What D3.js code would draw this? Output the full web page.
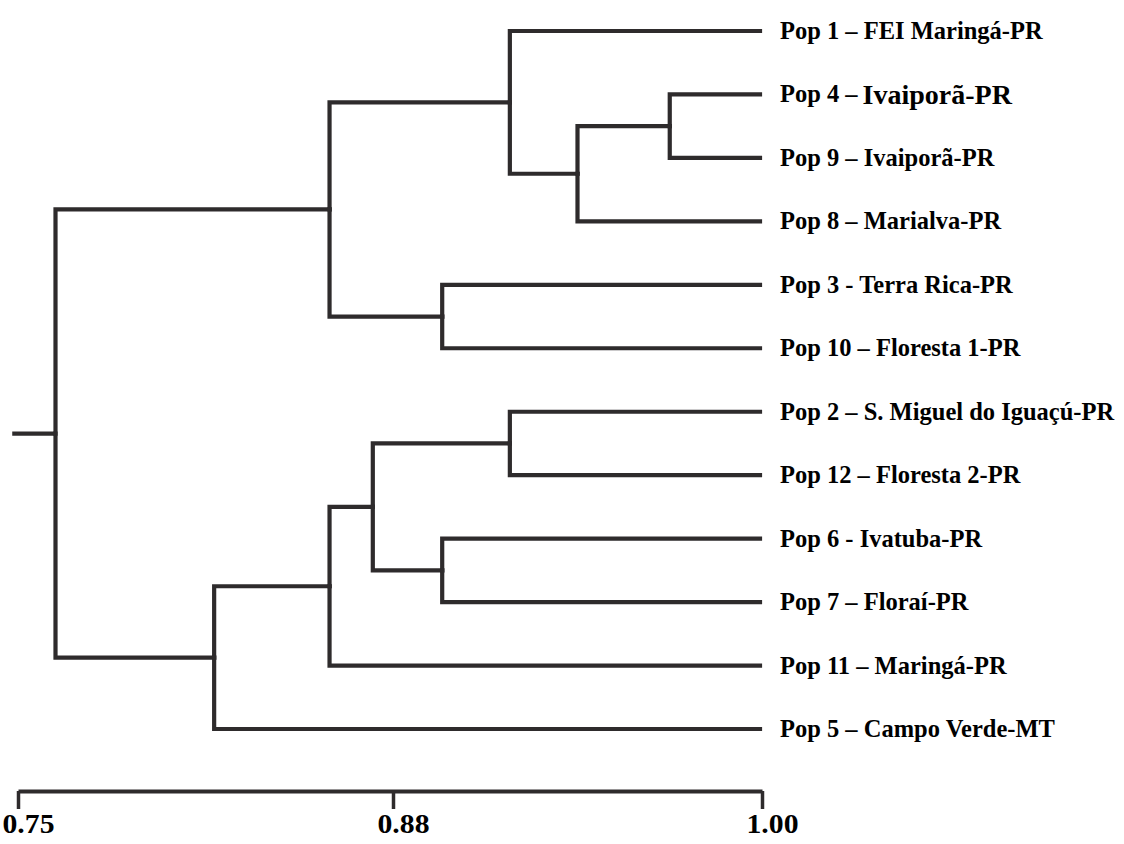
<!DOCTYPE html>
<html><head><meta charset="utf-8">
<script src="https://cdn.jsdelivr.net/npm/d3@7"></script>
<style>body{margin:0;background:#fff}svg{display:block}</style>
</head><body><svg id="chart" width="1124" height="844"></svg>
<script>
// ---- data ----
const leafIds = ["Pop 1","Pop 4","Pop 9","Pop 8","Pop 3","Pop 10","Pop 2","Pop 12","Pop 6","Pop 7","Pop 11","Pop 5"];
const leafSep = ["–","–","–","–","-","–","–","–","-","–","–","–"];
const leafPlaces = ["FEI Maringá-PR","Ivaiporã-PR","Ivaiporã-PR","Marialva-PR","Terra Rica-PR","Floresta 1-PR","S. Miguel do Iguaçú-PR","Floresta 2-PR","Ivatuba-PR","Floraí-PR","Maringá-PR","Campo Verde-MT"];
const mergeLeft   = ["Pop 4","n1","Pop 1","Pop 3","n3","Pop 2","Pop 6","n6","n8","n9","n5"];
const mergeRight  = ["Pop 9","Pop 8","n2","Pop 10","n4","Pop 12","Pop 7","n7","Pop 11","Pop 5","n10"];
const mergeHeight = [0.970,0.940,0.918,0.896,0.858,0.918,0.896,0.873,0.858,0.818,0.763];
const tickValues = [0.75,0.88,1.00];
const tickLabels = ["0.75","0.88","1.00"];
const leafHeight = 1.00;
const stubValue = 0.748;

// ---- layout ----
const svg = d3.select("#chart");
const lineColor = "#2e2b2c";
const x = d3.scaleLinear().domain([0.75,0.88,1.00]).range([18,393,762]);
const y = d3.scalePoint().domain(leafIds).range([31,729]);

// build tree
const nodes = {};
leafIds.forEach(id => nodes[id] = {id, h: leafHeight, leaf: true});
mergeHeight.forEach((h,i) => {
  const id = "n" + (i+1);
  nodes[id] = {id, h, children: [nodes[mergeLeft[i]], nodes[mergeRight[i]]]};
});
const rootNode = nodes["n" + mergeHeight.length];
const root = d3.hierarchy(rootNode, d => d.children);
root.eachAfter(n => {
  n.px = x(n.data.h);
  n.py = n.data.leaf ? y(n.data.id) : d3.mean(n.children, c => c.py);
});

const g = svg.append("g");
// elbow links
g.selectAll("path.link").data(root.links()).join("path")
  .attr("class","link")
  .attr("fill","none").attr("stroke",lineColor).attr("stroke-width",4.2)
  .attr("stroke-linejoin","miter").attr("stroke-linecap","square")
  .attr("d", l => `M${l.source.px},${l.source.py}V${l.target.py}H${l.target.px - (l.target.data.leaf ? 2 : 0)}`);
// root stub
g.append("path").attr("fill","none").attr("stroke",lineColor).attr("stroke-width",4.2)
  .attr("d", `M${x(stubValue)},${root.py}H${root.px}`);

// leaf labels
const labels = g.selectAll("text.leaf").data(leafIds).join("text")
  .attr("class","leaf")
  .attr("x", 780).attr("y", d => y(d) + 8)
  .attr("font-family","'Liberation Serif','Times New Roman',serif")
  .attr("font-weight","bold").attr("font-size",24.5).attr("fill","#000");
labels.each(function(d,i){
  const t = d3.select(this);
  if (d === "Pop 4") {
    t.append("tspan").text(`${d} ${leafSep[i]}`);
    t.append("tspan").attr("dx",5).attr("font-size",28).attr("dy",2).text(leafPlaces[i]);
  } else {
    t.text(`${d} ${leafSep[i]} ${leafPlaces[i]}`);
  }
});

// axis
const axis = d3.axisBottom(x).tickValues(tickValues)
  .tickFormat((d,i) => tickLabels[i]).tickSize(18).tickSizeOuter(0);
const ag = svg.append("g").attr("transform","translate(0,791)").call(axis);
ag.select(".domain").attr("stroke",lineColor).attr("stroke-width",4);
ag.selectAll(".tick line").attr("stroke",lineColor).attr("stroke-width",3.5);
ag.selectAll(".tick text")
  .attr("x",0).attr("y",0).attr("dy",0)
  .attr("transform","translate(10,42) scale(1.1,1)")
  .attr("text-anchor","middle")
  .attr("font-family","'Liberation Serif','Times New Roman',serif")
  .attr("font-weight","bold").attr("font-size",27).attr("fill","#000");
</script>
</body></html>
